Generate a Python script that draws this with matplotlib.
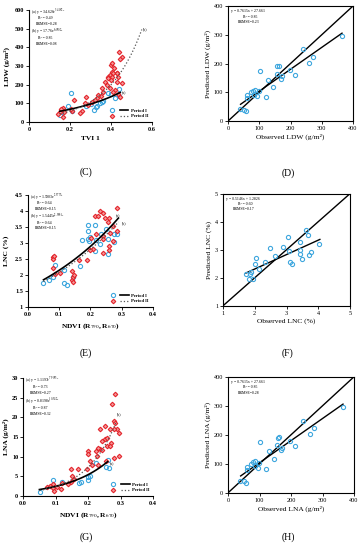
import numpy as np
import matplotlib
matplotlib.use('Agg')
import matplotlib.pyplot as plt
from matplotlib.lines import Line2D
from matplotlib.legend_handler import HandlerTuple

plt.rcParams['font.family'] = ['Liberation Serif', 'DejaVu Serif']
plt.rcParams['mathtext.fontset'] = 'stix'

BLUE = '#3fa7de'
RED = '#e3242b'

# ---------------- (C) TVI1 vs LDW ----------------
c_x1 = [0.15, 0.16, 0.19, 0.205, 0.21, 0.28, 0.30, 0.318, 0.325, 0.334, 0.347, 0.355,
        0.36, 0.383, 0.40, 0.42, 0.437, 0.44]
c_y1 = [36, 55, 84, 154, 60, 85, 95, 63, 82, 88, 104, 107, 112, 158, 150, 130, 179, 138]
c_x2 = [0.439, 0.455, 0.444, 0.398, 0.416, 0.428, 0.407, 0.395, 0.384, 0.407, 0.436, 0.379,
        0.371, 0.358, 0.395, 0.42, 0.452, 0.411, 0.359, 0.351, 0.335, 0.33, 0.322, 0.306,
        0.276, 0.273, 0.289, 0.257, 0.25, 0.221, 0.208, 0.203, 0.165, 0.151, 0.143, 0.164,
        0.172, 0.154, 0.436, 0.444, 0.428, 0.40, 0.387, 0.403, 0.41, 0.43]
c_y2 = [377, 350, 338, 305, 291, 261, 270, 252, 243, 243, 243, 198, 212, 184, 180, 171, 207,
        159, 159, 141, 145, 127, 118, 105, 134, 100, 91, 62, 48, 118, 59, 70, 75, 55, 41, 29,
        52, 70, 150, 136, 212, 225, 237, 314, 265, 265]
c_fit1 = (34.626, 3.4182, 0.15, 0.445)
c_fit2 = (17.76, 6.0502, 0.15, 0.55)
c_text = [r'(a) y = 34.626e$^{3.4182x}$', 'R² = 0.49', 'RRMSE=0.28',
          r'(b) y = 17.76e$^{6.0502x}$', 'R² = 0.85', 'RRMSE=0.08']

# ---------------- (E) NDVI vs LNC ----------------
e_x1 = [0.048, 0.069, 0.08, 0.086, 0.116, 0.117, 0.126, 0.143, 0.166, 0.172, 0.193, 0.193,
        0.193, 0.2, 0.196, 0.215, 0.217, 0.214, 0.23, 0.235, 0.25, 0.256, 0.257, 0.275,
        0.284, 0.277]
e_y1 = [1.74, 1.85, 1.92, 2.32, 2.14, 1.76, 1.69, 1.93, 2.28, 3.1, 3.57, 3.36, 3.12, 3.18,
        3.06, 3.57, 3.08, 2.73, 2.96, 3.27, 3.43, 3.13, 2.65, 3.27, 3.26, 3.04]
e_x2 = [0.23, 0.24, 0.214, 0.225, 0.248, 0.261, 0.256, 0.287, 0.272, 0.263, 0.284, 0.24,
        0.219, 0.21, 0.198, 0.19, 0.203, 0.242, 0.259, 0.261, 0.242, 0.082, 0.082, 0.084,
        0.08, 0.087, 0.103, 0.141, 0.14, 0.143, 0.147, 0.145, 0.164, 0.272]
e_y2 = [4.0, 3.93, 3.85, 3.85, 3.77, 3.77, 3.64, 4.08, 3.51, 3.31, 3.36, 3.2, 3.27, 2.81,
        2.77, 2.47, 3.15, 3.12, 2.76, 2.89, 2.68, 2.56, 2.5, 2.6, 2.2, 2.03, 2.06, 2.11,
        1.85, 1.93, 1.98, 1.79, 2.47, 3.05]
e_fit1 = (1.5903, 2.9773, 0.05, 0.29)
e_fit2 = (1.5445, 2.9651, 0.05, 0.29)
e_text = [r'(a) y = 1.5903e$^{2.9773x}$', 'R² = 0.64', 'RRMSE=0.15',
          r'(b) y = 1.5445e$^{2.9651x}$', 'R² = 0.64', 'RRMSE=0.15']

# ---------------- (G) NDVI vs LNA ----------------
g_x1 = [0.051, 0.092, 0.121, 0.172, 0.178, 0.199, 0.2, 0.207, 0.224, 0.256, 0.26, 0.264]
g_y1 = [1.0, 4.2, 3.5, 3.2, 3.5, 4.2, 4.9, 5.2, 8.3, 7.3, 9.1, 7.1]
g_x2 = [0.284, 0.274, 0.279, 0.284, 0.289, 0.279, 0.294, 0.267, 0.238, 0.252, 0.253, 0.258,
        0.269, 0.243, 0.238, 0.243, 0.258, 0.267, 0.223, 0.2, 0.199, 0.228, 0.207, 0.212,
        0.23, 0.197, 0.168, 0.148, 0.151, 0.156, 0.148, 0.137, 0.12, 0.117, 0.103, 0.092,
        0.091, 0.094, 0.084, 0.074, 0.23, 0.294, 0.279, 0.255]
g_y2 = [25.8, 23.4, 19.0, 18.6, 16.9, 16.9, 15.9, 16.9, 16.9, 17.8, 14.5, 14.8, 13.5, 13.9,
        12.0, 11.8, 12.8, 12.8, 11.4, 11.4, 10.6, 10.1, 8.9, 8.0, 7.8, 6.8, 6.8, 6.8, 5.1,
        4.4, 3.5, 3.0, 3.2, 1.9, 2.4, 3.0, 2.1, 1.3, 2.5, 2.3, 12.3, 10.3, 9.7, 9.0]
g_fit1 = (1.1197, 7.9093, 0.05, 0.26)
g_fit2 = (0.8198, 10.942, 0.05, 0.285)
g_text = [r'(a) y = 1.1197e$^{7.9093x}$', 'R² = 0.73', 'RRMSE=0.27',
          r'(b) y = 0.8198e$^{10.942x}$', 'R² = 0.87', 'RRMSE=0.32']

# ---------------- (D)/(H) observed vs predicted ----------------
d_obs = [37, 50, 57, 60, 60, 73, 80, 87, 84, 94, 98, 103, 122, 129, 145, 156, 158, 163,
         169, 172, 198, 214, 239, 260, 273, 365]
d_pred = [42, 40, 34, 90, 80, 100, 106, 109, 92, 86, 103, 174, 83, 144, 118, 164, 190, 193,
          146, 155, 177, 161, 249, 201, 224, 295]
d_fit = (0.7615, 27.661, 40, 365)

# ---------------- (F) observed vs predicted LNC ----------------
f_obs = [1.73, 1.85, 1.81, 1.88, 1.94, 2.0, 2.04, 2.14, 2.33, 2.48, 2.63, 2.88, 3.06, 3.07,
         3.1, 3.18, 3.44, 3.44, 3.44, 3.49, 3.62, 3.68, 3.7, 3.78, 4.01]
f_pred = [2.12, 2.15, 1.97, 2.21, 1.94, 2.48, 2.72, 2.3, 2.56, 3.05, 2.78, 3.1, 3.47, 2.96,
          2.56, 2.48, 3.26, 2.98, 2.84, 2.66, 3.71, 3.53, 2.81, 2.93, 3.19]
f_fit = (0.5146, 1.2826, 1.72, 4.05)

fig = plt.figure(figsize=(3.62, 5.5), dpi=100)
TICK = 4.5
LAB = 5.4
SMALL = 2.8


def style(ax, box=False, bold=False):
    for s in ['top', 'right']:
        ax.spines[s].set_visible(box)
    for s in ax.spines.values():
        s.set_linewidth(0.8)
    ax.tick_params(direction='out', length=2, width=0.6, labelsize=TICK, pad=1.5)
    if bold:
        for t in ax.get_xticklabels() + ax.get_yticklabels():
            t.set_fontweight('bold')


def scatter_fit(ax, x1, y1, x2, y2, f1, f2, text, lab_a, lab_b):
    ax.plot(x1, y1, 'o', ms=3, mfc='none', mec=BLUE, mew=0.8, zorder=3)
    ax.plot(x2, y2, 'D', ms=2.3, mfc='#f59a9a', mec=RED, mew=0.8, zorder=3)
    xs = np.linspace(f1[2], f1[3], 60)
    ax.plot(xs, f1[0] * np.exp(f1[1] * xs), '-', color='black', lw=1.2, zorder=4)
    xs = np.linspace(f2[2], f2[3], 60)
    ax.plot(xs, f2[0] * np.exp(f2[1] * xs), ':', color='#555555', lw=0.9, zorder=4)
    offs = [0.0, 0.06, 0.04, 0.0, 0.06, 0.04]
    ys = [0.965, 0.915, 0.865, 0.79, 0.74, 0.69]
    for i, t in enumerate(text):
        ax.text(0.015 + offs[i], ys[i], t, transform=ax.transAxes, fontsize=SMALL,
                ha='left', va='baseline')
    ax.text(*lab_a, '(a)', fontsize=3, ha='left', va='center')
    ax.text(*lab_b, '(b)', fontsize=3, ha='left', va='center')
    h1 = (Line2D([], [], ls='none', marker='o', ms=3, mfc='none', mec=BLUE, mew=0.8),
          Line2D([], [], color='black', lw=1.2))
    h2 = (Line2D([], [], ls='none', marker='D', ms=2.3, mfc='#f59a9a', mec=RED, mew=0.8),
          Line2D([], [], color='#555555', lw=0.9, ls=':'))
    leg = ax.legend([h1, h2], ['Period I', 'Period II'], loc='lower right',
                    handler_map={tuple: HandlerTuple(ndivide=None, pad=0.6)},
                    fontsize=3.3, frameon=False, handlelength=4.5, borderaxespad=0.4,
                    handletextpad=0.5, labelspacing=0.3)
    for t in leg.get_texts():
        t.set_fontweight('bold')


def obs_pred(ax, obs, pred, fit, lim, ticks, txt, xl, yl):
    ax.plot(obs, pred, 'o', ms=3, mfc='none', mec=BLUE, mew=0.8, zorder=3)
    ax.plot(lim, lim, '-', color='black', lw=1.0)
    xs = np.array([fit[2], fit[3]])
    ax.plot(xs, fit[0] * xs + fit[1], '-', color='black', lw=1.0)
    ax.set_xlim(lim)
    ax.set_ylim(lim)
    ax.set_xticks(ticks)
    ax.set_yticks(ticks)
    ax.text(0.02, 0.945, txt[0], transform=ax.transAxes, fontsize=SMALL, va='baseline')
    ax.text(0.12, 0.9, txt[1], transform=ax.transAxes, fontsize=SMALL, va='baseline')
    ax.text(0.08, 0.855, txt[2], transform=ax.transAxes, fontsize=SMALL, va='baseline')
    ax.set_xlabel(xl, fontsize=LAB, labelpad=2)
    ax.set_ylabel(yl, fontsize=LAB, labelpad=2)
    style(ax, box=True)


# (C)
ax = fig.add_axes([0.080, 0.778, 0.340, 0.204])
scatter_fit(ax, c_x1, c_y1, c_x2, c_y2, c_fit1, c_fit2, c_text, (0.455, 155), (0.555, 495))
ax.set_xlim(0, 0.6)
ax.set_ylim(0, 600)
ax.set_xticks([0, 0.2, 0.4, 0.6])
ax.set_xticklabels(['0', '0.2', '0.4', '0.6'])
ax.set_yticks(range(0, 601, 100))
ax.set_xlabel('TVI 1', fontsize=LAB, fontweight='bold', labelpad=3)
ax.set_ylabel('LDW (g/m²)', fontsize=LAB, fontweight='bold', labelpad=3)
style(ax, bold=True)

# (D)
ax = fig.add_axes([0.630, 0.780, 0.345, 0.209])
obs_pred(ax, d_obs, d_pred, d_fit, [0, 400], [0, 100, 200, 300, 400],
         ['y = 0.7615x + 27.661', 'R² = 0.85', 'RRMSE=0.23'],
         'Observed LDW (g/m²)', 'Predicted LDW (g/m²)')

# (E)
ax = fig.add_axes([0.077, 0.442, 0.345, 0.204])
scatter_fit(ax, e_x1, e_y1, e_x2, e_y2, e_fit1, e_fit2, e_text, (0.283, 3.82), (0.3, 3.62))
ax.set_xlim(0, 0.4)
ax.set_ylim(1, 4.5)
ax.set_xticks([0, 0.1, 0.2, 0.3, 0.4])
ax.set_xticklabels(['0.0', '0.1', '0.2', '0.3', '0.4'])
ax.set_yticks([1, 1.5, 2, 2.5, 3, 3.5, 4, 4.5])
ax.set_yticklabels(['1', '1.5', '2', '2.5', '3', '3.5', '4', '4.5'])
ax.set_xlabel(r'NDVI (R$_{790}$, R$_{670}$)', fontsize=LAB, fontweight='bold', labelpad=3)
ax.set_ylabel('LNC (%)', fontsize=LAB, fontweight='bold', labelpad=4)
style(ax, bold=True)

# (F)
ax = fig.add_axes([0.616, 0.444, 0.351, 0.204])
obs_pred(ax, f_obs, f_pred, f_fit, [1, 5], [1, 2, 3, 4, 5],
         ['y = 0.5146x + 1.2826', 'R² = 0.60', 'RRMSE=0.17'],
         'Observed LNC (%)', 'Predicted LNC (%)')

# (G)
ax = fig.add_axes([0.064, 0.098, 0.359, 0.215])
scatter_fit(ax, g_x1, g_y1, g_x2, g_y2, g_fit1, g_fit2, g_text, (0.268, 8.0), (0.288, 20.8))
ax.set_xlim(0, 0.4)
ax.set_ylim(0, 30)
ax.set_xticks([0, 0.1, 0.2, 0.3, 0.4])
ax.set_xticklabels(['0.0', '0.1', '0.2', '0.3', '0.4'])
ax.set_yticks(range(0, 31, 5))
ax.set_xlabel(r'NDVI (R$_{790}$, R$_{670}$)', fontsize=LAB, fontweight='bold', labelpad=3)
ax.set_ylabel('LNA (g/m²)', fontsize=LAB, fontweight='bold', labelpad=2)
style(ax, bold=True)

# (H)
ax = fig.add_axes([0.630, 0.104, 0.348, 0.211])
obs_pred(ax, d_obs, d_pred, d_fit, [0, 400], [0, 100, 200, 300, 400],
         ['y = 0.7615x + 27.661', 'R² = 0.85', 'RRMSE=0.28'],
         'Observed LNA (g/m²)', 'Predicted LNA (g/m²)')

for lab, x, y in [('(C)', 86, 172), ('(D)', 288, 173), ('(E)', 86, 353),
                  ('(F)', 288, 353), ('(G)', 86, 537), ('(H)', 288, 537)]:
    fig.text(x / 362, 1 - y / 550, lab, fontsize=7, ha='center', va='center')

fig.savefig('out.png', dpi=100)
